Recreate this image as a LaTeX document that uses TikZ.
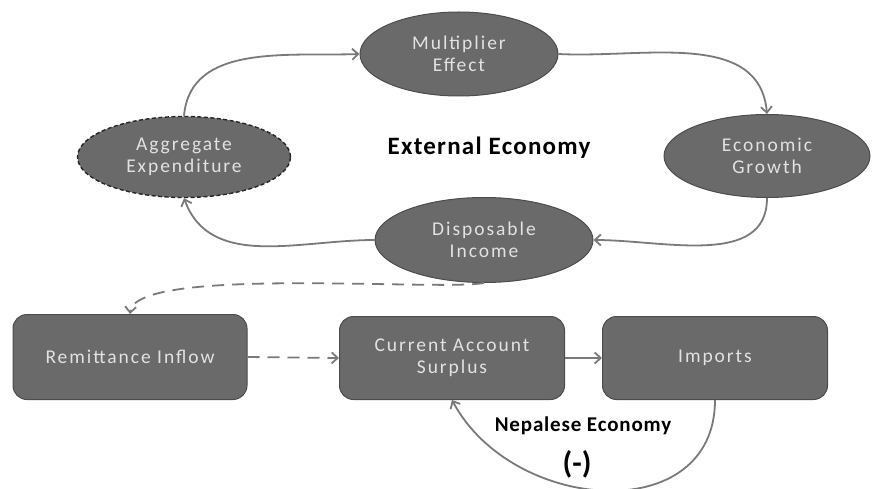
\documentclass[tikz,border=0pt]{standalone}
\usepackage{fontspec}
\setmainfont{Carlito}
\usetikzlibrary{
    shapes.geometric,
    arrows.meta,
    positioning
}
\definecolor{boxfill}{HTML}{6A6A6A}
\definecolor{boxline}{HTML}{4C4C4C}
\definecolor{boxtext}{HTML}{E2E2E2}
\definecolor{linkgray}{HTML}{7A7A7A}
\newcommand{\boxfont}{\fontsize{19.5}{22}\selectfont\addfontfeature{LetterSpace=10}}
\tikzset{
    bubble/.style={ellipse, fill=boxfill, draw=boxline, line width=1pt,
        text=boxtext, font=\boxfont, align=center, inner sep=0pt},
    block/.style={rectangle, rounded corners=14pt, fill=boxfill, draw=boxline,
        line width=1pt, text=boxtext, font=\boxfont,
        align=center, minimum width=225pt, minimum height=83pt},
    link/.style={draw=linkgray, line width=1.8pt,
        -{Straight Barb[length=6pt,width=11pt]}},
    dlink/.style={link, dash pattern=on 12pt off 8pt}
}

\begin{document}
\begin{tikzpicture}[x=1pt, y=-1pt]
        \useasboundingbox (0,0) rectangle (872,489);
        % external economy loop
        \node[bubble, minimum width=198pt, minimum height=84pt] (mult) at (459,54) {Multiplier\\Effect};
        \node[bubble, minimum width=206pt, minimum height=83pt] (grow) at (767,156) {Economic\\Growth};
        \node[bubble, minimum width=218pt, minimum height=85pt] (disp) at (484,240) {Disposable\\Income};
        \node[bubble, minimum width=213pt, minimum height=81pt, draw=black!85, line width=1.4pt, dash pattern=on 4pt off 2.5pt] (agg) at (184,157) {Aggregate\\Expenditure};
        \node[font=\fontsize{25}{28}\selectfont\bfseries\addfontfeature{LetterSpace=5}] (ext) at (489,148) {External Economy};
        \draw[link] (agg.north) to[out=85, in=182] (mult.west);
        \draw[link] (mult.east) to[out=-3, in=95] (grow.north);
        \draw[link] (grow.south) to[out=-90, in=0] (disp.east);
        \draw[link] (disp.west) to[out=180, in=-70] (agg.south);
        % nepalese economy
        \node[block, minimum width=234pt, minimum height=85pt] (remit) at (130,357) {Remittance Inflow};
        \node[block] (cas) at (452,358) {Current Account\\Surplus};
        \node[block] (imp) at (715,358) {Imports};
        \node[font=\fontsize{21}{24}\selectfont\bfseries\addfontfeature{LetterSpace=4}] (nep) at (583,426) {Nepalese Economy};
        \node[font=\fontsize{31}{34}\selectfont\bfseries] (neg) at (577,464) {(-)};
        \draw[dlink] (disp.south) to[out=190, in=85, looseness=0.35] (remit.north);
        \draw[dlink] (remit.east) -- (cas.west);
        \draw[link] (cas.east) -- (imp.west);
        \draw[link] (imp.south) to[out=-90, in=-62, looseness=1.25] (cas.south);
    \end{tikzpicture}
\end{document}
